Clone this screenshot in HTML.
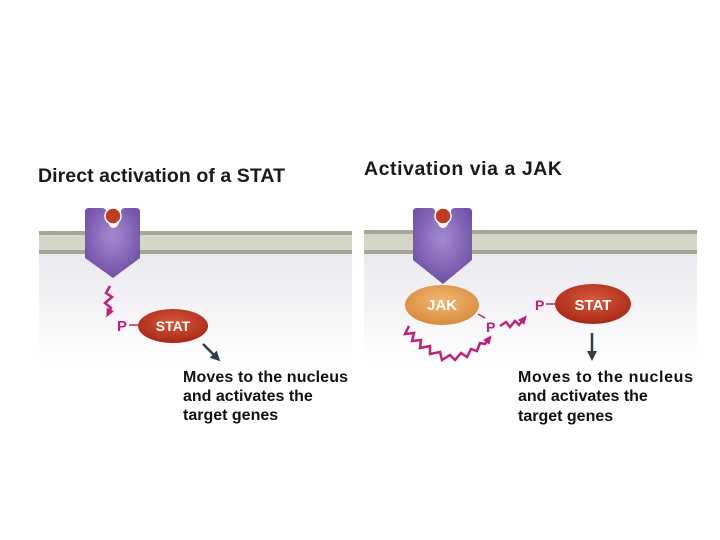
<!DOCTYPE html>
<html><head><style>
body{margin:0;width:720px;height:540px;background:#fff;overflow:hidden}
svg{position:absolute;left:0;top:0}
text{font-family:"Liberation Sans",sans-serif;font-weight:bold}
</style></head><body>
<svg width="720" height="540" viewBox="0 0 720 540">
<defs>
<linearGradient id="bg" x1="0" y1="0" x2="0" y2="1"><stop offset="0" stop-color="#e9e9ef"/><stop offset="1" stop-color="#ffffff"/></linearGradient>
<radialGradient id="pur" cx="0.5" cy="0.4" r="0.6"><stop offset="0" stop-color="#a48ad0"/><stop offset="1" stop-color="#7050a8"/></radialGradient>
<radialGradient id="red" cx="0.5" cy="0.4" r="0.6"><stop offset="0" stop-color="#d85a3a"/><stop offset="1" stop-color="#a82818"/></radialGradient>
<radialGradient id="org" cx="0.5" cy="0.4" r="0.6"><stop offset="0" stop-color="#f2b870"/><stop offset="1" stop-color="#d88a40"/></radialGradient>
<marker id="ah" markerUnits="userSpaceOnUse" markerWidth="12" markerHeight="12" refX="4" refY="6" orient="auto"><path d="M0,1L10,6L0,11z" fill="#2f3e4a"/></marker>
<marker id="mh" markerUnits="userSpaceOnUse" markerWidth="10" markerHeight="10" refX="3" refY="5" orient="auto"><path d="M0,1L9,5L0,9z" fill="#c0207a"/></marker>
</defs>
<text x="38" y="182" font-size="19.5" fill="#1a1a1a" textLength="247">Direct activation of a STAT</text>
<text x="364" y="175" font-size="19.5" fill="#1a1a1a" textLength="198">Activation via a JAK</text>
<rect x="39" y="254" width="313" height="110" fill="url(#bg)"/>
<rect x="364" y="254" width="333" height="110" fill="url(#bg)"/>
<rect x="39" y="231" width="313" height="23" fill="#d6d6c8"/>
<rect x="39" y="231" width="313" height="4" fill="#a6a696"/>
<rect x="39" y="250" width="313" height="4" fill="#a6a696"/>
<rect x="364" y="230" width="333" height="24" fill="#d6d6c8"/>
<rect x="364" y="230" width="333" height="4" fill="#a6a696"/>
<rect x="364" y="250" width="333" height="4" fill="#a6a696"/>
<path d="M85,212 Q85,208 89,208 L102,208 Q106,208 106,212 Q108,228 113,228 Q120,228 121,212 Q121,208 125,208 L136,208 Q140,208 140,212 L140,258 L113,278 L85,258 Z" fill="url(#pur)"/>
<circle cx="113" cy="216" r="8" fill="#c23a22" stroke="#fff" stroke-width="1.5"/>
<path d="M413,212 Q413,208 417,208 L431,208 Q435,208 435,212 Q437,228 443,228 Q449,228 451,212 Q451,208 455,208 L468,208 Q472,208 472,212 L472,260 L443,284 L413,260 Z" fill="url(#pur)"/>
<circle cx="443" cy="216" r="8" fill="#c23a22" stroke="#fff" stroke-width="1.5"/>
<polyline points="110,286 106,293 112,297 105,303 111,308 109,312" fill="none" stroke="#c0207a" stroke-width="2.5" marker-end="url(#mh)"/>
<text x="117" y="331" font-size="15" fill="#c0207a">P</text>
<line x1="129" y1="325" x2="138" y2="325" stroke="#c0207a" stroke-width="1.5"/>
<ellipse cx="173" cy="326" rx="35" ry="17" fill="url(#red)"/>
<text x="173" y="331" font-size="14" fill="#fff" text-anchor="middle">STAT</text>
<line x1="203" y1="344" x2="216" y2="357" stroke="#2f3e4a" stroke-width="2.5" marker-end="url(#ah)"/>
<text font-size="16" fill="#111"><tspan x="183" y="382" textLength="165">Moves to the nucleus</tspan><tspan x="183" y="401">and activates the</tspan><tspan x="183" y="420">target genes</tspan></text>
<ellipse cx="442" cy="305" rx="37" ry="20" fill="url(#org)"/>
<text x="442" y="310" font-size="15" fill="#fff" text-anchor="middle">JAK</text>
<line x1="478" y1="314" x2="485" y2="318" stroke="#c0207a" stroke-width="1.5"/>
<text x="486" y="332" font-size="14" fill="#c0207a">P</text>
<polyline points="409,326 405,334 414,333 412,341 421,340 420,348 430,346 430,354 440,352 442,360 450,355 455,360 461,353 467,357 471,349 477,351 480,343 485,344 488,340" fill="none" stroke="#c0207a" stroke-width="2.5" marker-end="url(#mh)"/>
<polyline points="500,326 506,322 510,327 515,321 519,325 523,320" fill="none" stroke="#c0207a" stroke-width="2.5" marker-end="url(#mh)"/>
<text x="535" y="310" font-size="14" fill="#c0207a">P</text>
<line x1="546" y1="304" x2="555" y2="304" stroke="#c0207a" stroke-width="1.5"/>
<ellipse cx="593" cy="304" rx="38" ry="20" fill="url(#red)"/>
<text x="593" y="310" font-size="15" fill="#fff" text-anchor="middle">STAT</text>
<line x1="592" y1="333" x2="592" y2="355" stroke="#2f3e4a" stroke-width="2.5" marker-end="url(#ah)"/>
<text font-size="16" fill="#111"><tspan x="518" y="382" textLength="175">Moves to the nucleus</tspan><tspan x="518" y="401">and activates the</tspan><tspan x="518" y="421">target genes</tspan></text>
</svg>
</body></html>
